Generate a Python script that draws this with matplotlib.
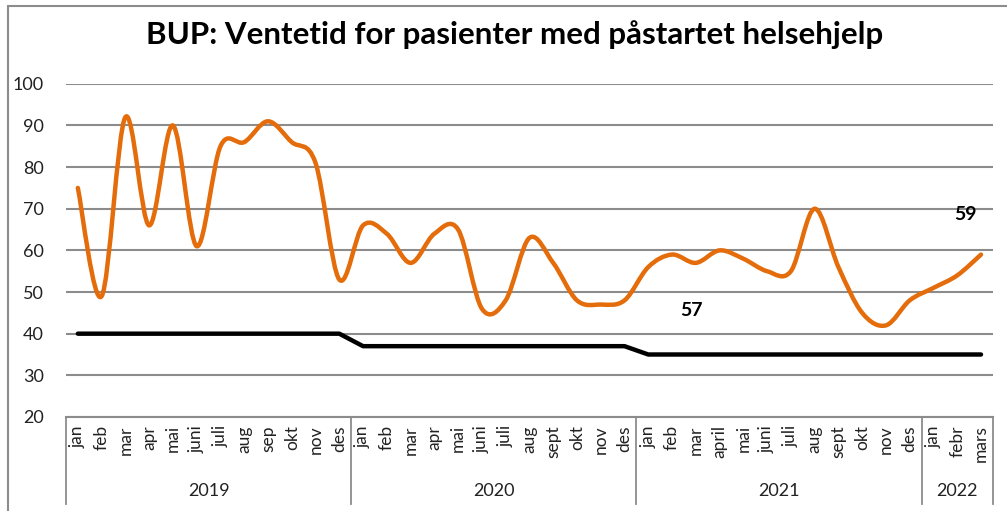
import numpy as np
import matplotlib.pyplot as plt
from matplotlib.path import Path
from matplotlib.patches import PathPatch, Rectangle
import matplotlib.transforms as mtransforms

plt.rcParams['font.family'] = ['Lato', 'DejaVu Sans']

years = ['2019', '2020', '2021', '2022']
months = [
    ['jan', 'feb', 'mar', 'apr', 'mai', 'juni', 'juli', 'aug', 'sep', 'okt', 'nov', 'des'],
    ['jan', 'feb', 'mar', 'apr', 'mai', 'juni', 'juli', 'aug', 'sept', 'okt', 'nov', 'des'],
    ['jan', 'feb', 'mar', 'april', 'mai', 'juni', 'juli', 'aug', 'sept', 'okt', 'nov', 'des'],
    ['jan', 'febr', 'mars'],
]
ventetid = [75, 49, 92, 66, 90, 61, 85, 86, 91, 86, 81, 53,
            66, 64, 57, 64, 65, 46, 48, 63, 57, 48, 47, 48,
            56, 59, 57, 60, 58, 55, 55, 70, 56, 45, 42, 48,
            51, 54, 59]
maal = [40] * 12 + [37] * 12 + [35] * 15
labelled = {26: (-3, -34), 38: (-11, 29)}  # index -> label offset (points)

orange = '#E46C0A'
grid_col = '#8C8C8C'

fig = plt.figure(figsize=(10.07, 5.11), dpi=100)
ax = fig.add_axes([0.0655, 0.184, 0.9205, 0.652])

x = np.arange(len(ventetid))
y = np.array(ventetid, dtype=float)

# smoothed line like Excel (cubic bezier, catmull-rom control points)
verts = [(x[0], y[0])]
codes = [Path.MOVETO]
n = len(x)
for i in range(n - 1):
    p0 = np.array([x[max(i - 1, 0)], y[max(i - 1, 0)]])
    p1 = np.array([x[i], y[i]])
    p2 = np.array([x[i + 1], y[i + 1]])
    p3 = np.array([x[min(i + 2, n - 1)], y[min(i + 2, n - 1)]])
    c1 = p1 + (p2 - p0) / 6
    c2 = p2 - (p3 - p1) / 6
    verts += [tuple(c1), tuple(c2), tuple(p2)]
    codes += [Path.CURVE4] * 3
ax.add_patch(PathPatch(Path(verts, codes), fill=False, edgecolor=orange,
                       lw=3.2, capstyle='round', joinstyle='round', zorder=3))

ax.plot(x, maal, color='black', lw=3.2, solid_capstyle='round', zorder=3)

for idx, off in labelled.items():
    ax.annotate(str(ventetid[idx]), (x[idx], y[idx]), xytext=off,
                textcoords='offset points', ha='center', va='center',
                fontsize=14, fontweight='bold', color='black')

ax.set_xlim(-0.5, len(ventetid) - 0.5)
ax.set_ylim(20, 100)
ax.set_yticks(range(20, 101, 10))
ax.yaxis.grid(True, color=grid_col, lw=1.5)
ax.set_axisbelow(True)
for s in ['top', 'right', 'left']:
    ax.spines[s].set_visible(False)
ax.spines['bottom'].set_color(grid_col)
ax.spines['bottom'].set_linewidth(1.5)
ax.tick_params(axis='y', length=0, pad=16, labelsize=13, labelcolor='#222222')
ax.set_xticks([])

# multi-level category axis
trans = mtransforms.blended_transform_factory(ax.transData, ax.transAxes)
pos = 0
bounds = [-0.5]
for yr, ms in zip(years, months):
    for j, m in enumerate(ms):
        ax.text(pos + j, -0.025, m, transform=trans, rotation=90, ha='center',
                va='top', fontsize=12.5, color='#222222')
    ax.text(pos + (len(ms) - 1) / 2, -0.222, yr, transform=trans, ha='center',
            va='center', fontsize=13, color='#222222')
    pos += len(ms)
    bounds.append(pos - 0.5)
for b in bounds:
    ax.plot([b, b], [0, -0.26], transform=trans, color=grid_col, lw=1.3, clip_on=False)

fig.text(0.511, 0.933, 'BUP: Ventetid for pasienter med påstartet helsehjelp',
         ha='center', va='center', fontsize=22.5, fontweight='bold')

fig.patches.append(Rectangle((8 / 1007, -0.1), 1.2, (511 - 6) / 511 + 0.1,
                             transform=fig.transFigure, fill=False,
                             edgecolor='#8C8C8C', lw=1.5))

fig.savefig('out.png', dpi=100)
